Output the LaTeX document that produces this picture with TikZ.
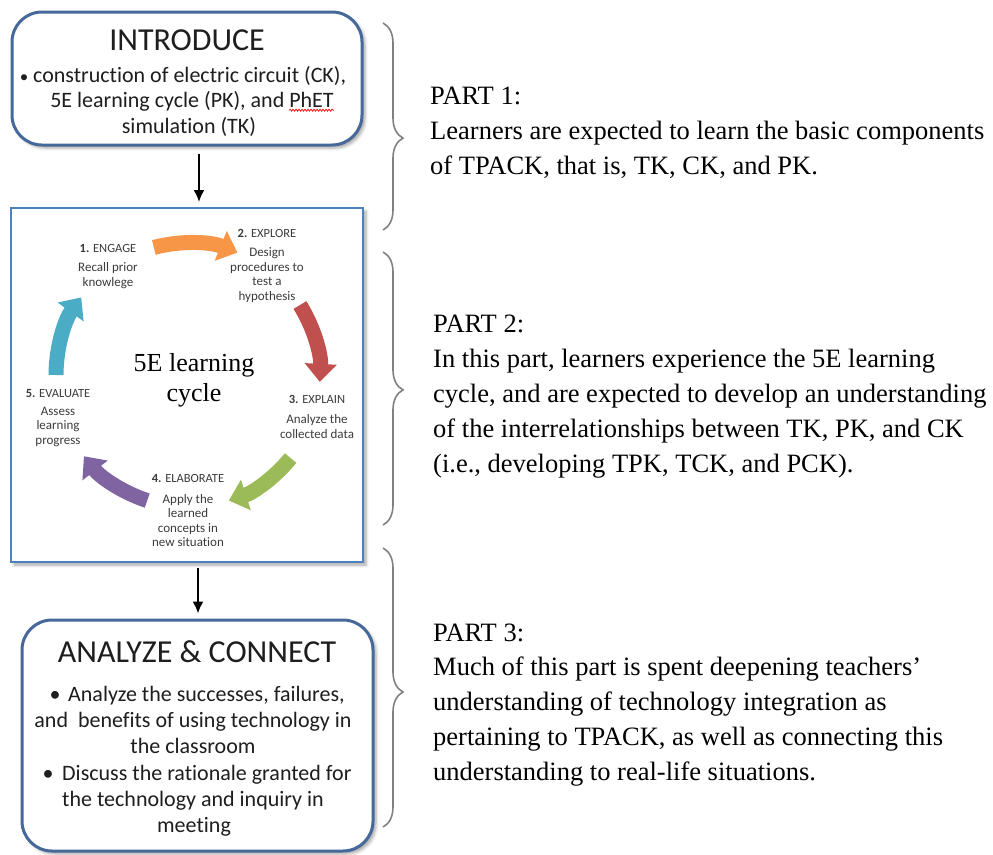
\documentclass[tikz,border=0pt]{standalone}
\usepackage{fontspec}
\setmainfont{Liberation Serif}
\newfontfamily\calibri[Ligatures={NoCommon,NoRequired,NoContextual}]{Carlito}
\usetikzlibrary{arrows.meta,decorations.pathreplacing,decorations.pathmorphing,shadows.blur,calc}

\definecolor{boxblue}{HTML}{46699A}
\definecolor{frameblue}{HTML}{4F81BD}
\definecolor{cOrange}{HTML}{F79646}
\definecolor{cRed}{HTML}{C0504D}
\definecolor{cGreen}{HTML}{9BBB59}
\definecolor{cPurple}{HTML}{8064A2}
\definecolor{cCyan}{HTML}{4BACC6}
\definecolor{labelgray}{HTML}{3C3C3C}
\definecolor{bracegray}{HTML}{808080}
\definecolor{inktext}{HTML}{1E1E1E}

\begin{document}
\begin{tikzpicture}[x=1pt,y=-1pt,
  stagebox/.style={draw=boxblue, line width=3pt, rounded corners=30pt, fill=white,
    inner sep=0pt, blur shadow={shadow xshift=3pt, shadow yshift=-3pt, shadow opacity=35, shadow blur radius=3pt}},
  cycleframe/.style={draw=frameblue, line width=2pt, fill=white, inner sep=0pt,
    blur shadow={shadow xshift=3pt, shadow yshift=-3pt, shadow opacity=35, shadow blur radius=3pt}},
  boxtitle/.style={font=\calibri\fontsize{32}{36}\selectfont, text=inktext, inner sep=0pt, anchor=base},
  boxline/.style={font=\calibri\fontsize{22}{26}\selectfont, text=inktext, inner sep=0pt, anchor=base},
  cyclab/.style={font=\calibri\fontsize{13}{14.5}\selectfont, text=labelgray, align=center, inner sep=0pt},
  cychead/.style={font=\calibri\fontsize{12.5}{14}\selectfont, text=labelgray, inner sep=0pt},
  parttext/.style={font=\fontsize{26.5}{35}\selectfont, text=black, inner sep=0pt, anchor=base west},
  flow/.style={line width=2pt, black, -{Latex[length=12pt,width=11pt]}},
  curly/.style={bracegray, line width=1.6pt, decorate},
  cyclearrow/.style={line width=15pt, -{Triangle[length=18pt,width=31pt]}}
]
\useasboundingbox (0,0) rectangle (993,854);

% ---------- stage boxes ----------
\node[stagebox, minimum width=350pt, minimum height=133pt] (intro) at (187,78.5) {};
\node[cycleframe, minimum width=352pt, minimum height=354pt] (cyc) at (187,385) {};
\node[stagebox, minimum width=351pt, minimum height=231pt] (anal) at (197.5,735.5) {};

% ---------- INTRODUCE ----------
\node[boxtitle] (introtitle) at (187,50) {INTRODUCE};
\node[boxline, font=\calibri\fontsize{17}{20}\selectfont] (ibul) at (24,82) {•};
\node[boxline, anchor=base west] (i1) at (33,82) {construction of electric circuit (CK),};
\node[boxline] (i2) at (192,107) {5E learning cycle (PK), and PhET};
\node[boxline, anchor=base east] (phet) at (i2.base east) {\phantom{PhET}};
\node[boxline] (i3) at (189,133) {simulation (TK)};
\draw[red, line width=0.7pt, decorate, decoration={snake, amplitude=1pt, segment length=3pt}]
  ($(phet.south west)+(0,3)$) -- ($(phet.south east)+(0,3)$);

% ---------- flow arrows ----------
\coordinate (ax1) at (199,0);
\coordinate (ax2) at (198,0);
\draw[flow] ($(intro.south -| ax1)+(0,7)$) -- ($(cyc.north -| ax1)+(0,-5)$);
\draw[flow] ($(cyc.south -| ax2)+(0,5)$) -- ($(anal.north -| ax2)+(0,-5)$);

% ---------- 5E cycle ----------
\coordinate (cc) at (188,375);
\foreach \col/\a/\b in {cOrange/-105/-68, cRed/-32/3, cGreen/39/72, cPurple/108/142, cCyan/-180/-144}
  \draw[cyclearrow, \col] ($(cc)+(\a:132)$) arc[start angle=\a, end angle=\b, radius=132];

\node[cychead] (h1) at (108,248) {\textbf{1.} ENGAGE};
\node[cyclab]  (d1) at (108,275.5) {Recall prior\\knowlege};
\node[cychead] (h2) at (267,233) {\textbf{2.} EXPLORE};
\node[cyclab]  (d2) at (267,275) {Design\\procedures to\\test a\\hypothesis};
\node[cychead] (h3) at (317,399) {\textbf{3.} EXPLAIN};
\node[cyclab]  (d3) at (317,426.5) {Analyze the\\collected data};
\node[cychead] (h4) at (188,478) {\textbf{4.} ELABORATE};
\node[cyclab]  (d4) at (188,520.5) {Apply the\\learned\\concepts in\\new situation};
\node[cychead] (h5) at (58,393) {\textbf{5.} EVALUATE};
\node[cyclab]  (d5) at (58,426.5) {Assess\\learning\\progress};

\node[font=\fontsize{26}{30}\selectfont, align=center, inner sep=0pt] (cycname) at (194,380) {5E learning\\cycle};

% ---------- ANALYZE & CONNECT ----------
\node[boxtitle] (analtitle) at (197,662) {ANALYZE \& CONNECT};
\node[boxline] (abul1) at (55,701.7) {•};
\node[boxline, anchor=base west] (a1) at (68,701.7) {Analyze the successes, failures,};
\node[boxline] (a2) at (193,727.7) {and\ \ benefits of using technology in};
\node[boxline] (a3) at (193,753.3) {the classroom};
\node[boxline] (abul2) at (48,780) {•};
\node[boxline, anchor=base west] (a4) at (62,780) {Discuss the rationale granted for};
\node[boxline] (a5) at (193,806.7) {the technology and inquiry in};
\begin{scope}
  \clip (0,0) rectangle (993,836);
  \node[boxline] (a6) at (194,832.7) {meeting};
\end{scope}

% ---------- braces ----------
\draw[curly, decoration={brace, amplitude=20pt, aspect=0.556}] (383,23) -- (383,230);
\draw[curly, decoration={brace, amplitude=20pt, aspect=0.505}] (383,252) -- (383,525);
\draw[curly, decoration={brace, amplitude=20pt, aspect=0.516}] (383,548) -- (383,827);

% ---------- part descriptions ----------
\node[parttext] (p1a) at (430,104) {PART 1:};
\node[parttext] (p1b) at (430,139) {Learners are expected to learn the basic components};
\node[parttext] (p1c) at (430,174) {of TPACK, that is, TK, CK, and PK.};

\node[parttext] (p2a) at (433,332) {PART 2:};
\node[parttext] (p2b) at (433,367) {In this part, learners experience the 5E learning};
\node[parttext] (p2c) at (433,402) {cycle, and are expected to develop an understanding};
\node[parttext] (p2d) at (433,437) {of the interrelationships between TK, PK, and CK};
\node[parttext] (p2e) at (433,472) {(i.e., developing TPK, TCK, and PCK).};

\node[parttext] (p3a) at (433,641) {PART 3:};
\node[parttext] (p3b) at (433,675) {Much of this part is spent deepening teachers’};
\node[parttext] (p3c) at (433,710) {understanding of technology integration as};
\node[parttext] (p3d) at (433,745) {pertaining to TPACK, as well as connecting this};
\node[parttext] (p3e) at (433,780) {understanding to real-life situations.};
\end{tikzpicture}
\end{document}
